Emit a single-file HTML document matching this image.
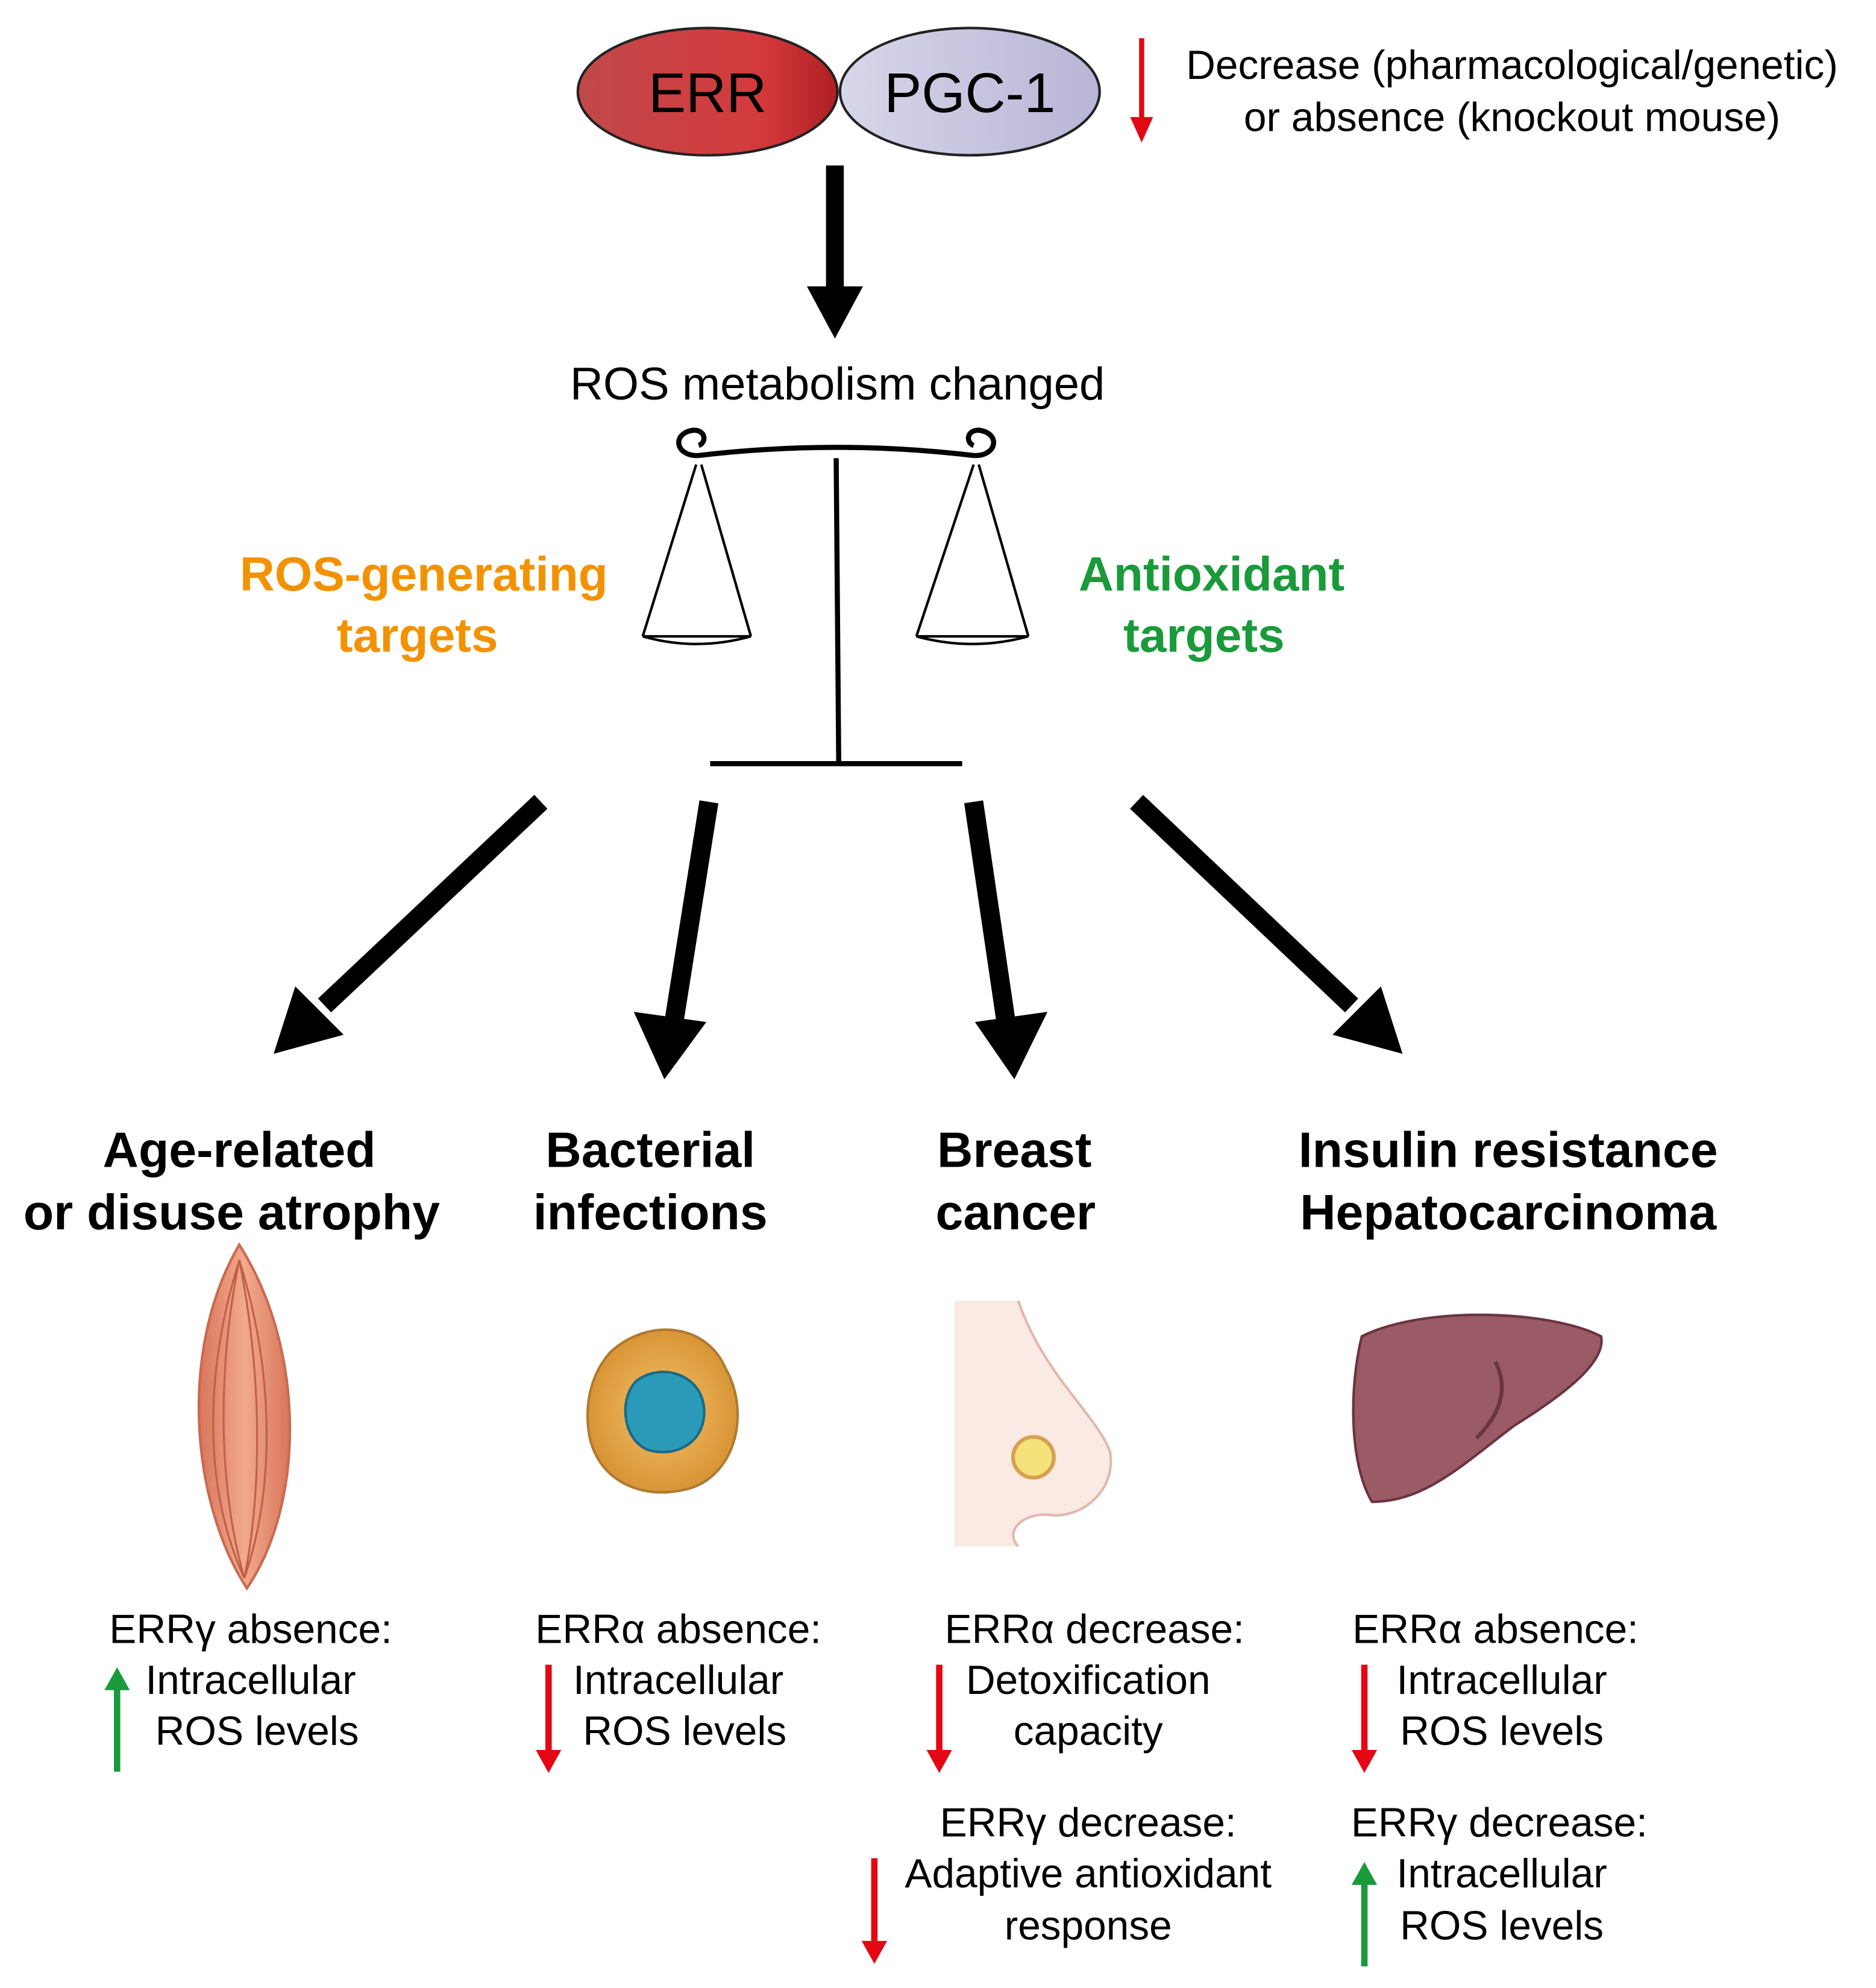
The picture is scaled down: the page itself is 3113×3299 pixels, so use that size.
<!DOCTYPE html>
<html><head><meta charset="utf-8"><style>html,body{margin:0;padding:0;background:#fff}svg{display:block}</style></head><body>
<svg width="3113" height="3299" viewBox="0 0 1474 1562" preserveAspectRatio="none" xmlns="http://www.w3.org/2000/svg" font-family="Liberation Sans, sans-serif">
<defs>
<linearGradient id="rg" x1="0" x2="1"><stop offset="0" stop-color="#c0484a"/><stop offset="0.7" stop-color="#d43a3c"/><stop offset="1" stop-color="#b01f24"/></linearGradient>
<linearGradient id="pg" x1="0" x2="1"><stop offset="0" stop-color="#d8d6ea"/><stop offset="1" stop-color="#b8b5d5"/></linearGradient>
<radialGradient id="cg"><stop offset="0" stop-color="#f4c16a"/><stop offset="1" stop-color="#d99536"/></radialGradient>
<linearGradient id="mg" x1="0" x2="1"><stop offset="0" stop-color="#d9765a"/><stop offset="0.5" stop-color="#f2a98c"/><stop offset="1" stop-color="#d9765a"/></linearGradient>
</defs>
<rect width="1474" height="1562" fill="#fff"/>
<ellipse cx="556" cy="72" rx="102" ry="50" fill="url(#rg)" stroke="#222" stroke-width="2"/>
<ellipse cx="762" cy="72" rx="102" ry="50" fill="url(#pg)" stroke="#222" stroke-width="2"/>
<text x="556" y="88" font-size="44" text-anchor="middle">ERR</text>
<text x="762" y="88" font-size="44" text-anchor="middle">PGC-1</text>
<g fill="#e30613" stroke="#e30613"><line x1="897" y1="30" x2="897" y2="95" stroke-width="4"/><polygon points="888,92 906,92 897,112" stroke="none"/></g>
<g font-size="32" text-anchor="middle"><text x="1188" y="62">Decrease (pharmacological/genetic)</text><text x="1188" y="103">or absence (knockout mouse)</text></g>
<g fill="#000"><rect x="649" y="130" width="14" height="100"/><polygon points="634,225 678,225 656,266"/></g>
<text x="658" y="314" font-size="36" text-anchor="middle">ROS metabolism changed</text>
<g fill="none" stroke="#000" stroke-width="4">
<path d="M548,358 Q657,345 766,358"/>
<path d="M548,358 C530,358 528,340 545,338 C555,338 555,348 549,350"/>
<path d="M766,358 C784,358 786,340 769,338 C759,338 759,348 765,350"/>
<line x1="657" y1="360" x2="659" y2="600"/>
<line x1="558" y1="600" x2="756" y2="600"/>
</g>
<g fill="none" stroke="#000" stroke-width="2">
<path d="M547,365 L505,500 M551,365 L590,500 M505,500 Q547,512 590,500 M505,500 L590,500"/>
<path d="M765,365 L720,500 M769,365 L808,500 M720,500 Q764,512 808,500 M720,500 L808,500"/>
</g>
<g font-size="38" font-weight="bold" text-anchor="middle">
<text x="333" y="464" fill="#f39200">ROS-generating</text><text x="328" y="512" fill="#f39200">targets</text>
<text x="952" y="464" fill="#1a9a3a">Antioxidant</text><text x="946" y="512" fill="#1a9a3a">targets</text>
</g>
<g stroke="#000" stroke-width="15">
<line x1="425" y1="630" x2="255" y2="790"/>
<line x1="557" y1="630" x2="530" y2="800"/>
<line x1="765" y1="630" x2="790" y2="800"/>
<line x1="893" y1="630" x2="1062" y2="790"/>
</g>
<g fill="#000">
<polygon points="215,828 232,775 270,813"/>
<polygon points="522,848 498,795 555,803"/>
<polygon points="797,848 766,803 823,795"/>
<polygon points="1102,828 1047,813 1085,775"/>
</g>
<g font-size="39" font-weight="bold" text-anchor="middle">
<text x="188" y="917">Age-related</text><text x="182" y="966">or disuse atrophy</text>
<text x="511" y="917">Bacterial</text><text x="511" y="966">infections</text>
<text x="797" y="917">Breast</text><text x="798" y="966">cancer</text>
<text x="1185" y="917">Insulin resistance</text><text x="1185" y="966">Hepatocarcinoma</text>
</g>
<path d="M188,978 C240,1060 240,1180 194,1248 C150,1180 140,1060 188,978 Z" fill="url(#mg)" stroke="#c96a50" stroke-width="2"/>
<g stroke="#c0604a" stroke-width="1.5" fill="none"><path d="M188,990 C170,1080 172,1170 192,1240"/><path d="M188,990 C206,1080 206,1170 192,1240"/><path d="M188,990 C160,1080 160,1170 192,1240"/><path d="M188,990 C216,1080 216,1170 192,1240"/></g>
<path d="M480,1062 C510,1035 555,1040 570,1075 C590,1110 578,1160 540,1170 C500,1180 465,1160 462,1120 C460,1095 468,1075 480,1062 Z" fill="url(#cg)" stroke="#b07a30" stroke-width="2"/>
<path d="M500,1085 C520,1070 550,1080 553,1105 C556,1130 535,1145 512,1140 C490,1135 485,1100 500,1085 Z" fill="#2a9ab8" stroke="#1a6a88" stroke-width="2"/>
<path d="M750,1022 L800,1022 C820,1080 860,1110 872,1140 C878,1170 850,1195 822,1190 C800,1190 790,1205 800,1215 L750,1215 Z" fill="#fbe9e3"/>
<path d="M800,1022 C820,1080 860,1110 872,1140 C878,1170 850,1195 822,1190 C800,1190 790,1205 800,1215" fill="none" stroke="#e0b8ae" stroke-width="2"/>
<circle cx="812" cy="1145" r="16" fill="#f5e27a" stroke="#d7a050" stroke-width="3"/>
<path d="M1070,1050 C1120,1025 1220,1030 1258,1050 C1262,1070 1230,1095 1190,1120 C1150,1150 1120,1180 1078,1180 C1060,1150 1060,1090 1070,1050 Z" fill="#9a5a66" stroke="#6a3440" stroke-width="2"/>
<path d="M1175,1070 C1185,1090 1180,1110 1160,1130" fill="none" stroke="#6a3440" stroke-width="3"/>
<g font-size="32" text-anchor="middle">
<text x="197" y="1291">ERRγ absence:</text><text x="197" y="1331">Intracellular</text><text x="202" y="1371">ROS levels</text>
<text x="533" y="1291">ERRα absence:</text><text x="533" y="1331">Intracellular</text><text x="538" y="1371">ROS levels</text>
<text x="860" y="1291">ERRα decrease:</text><text x="855" y="1331">Detoxification</text><text x="855" y="1371">capacity</text>
<text x="855" y="1443">ERRγ decrease:</text><text x="855" y="1483">Adaptive antioxidant</text><text x="855" y="1524">response</text>
<text x="1175" y="1291">ERRα absence:</text><text x="1180" y="1331">Intracellular</text><text x="1180" y="1371">ROS levels</text>
<text x="1178" y="1443">ERRγ decrease:</text><text x="1180" y="1483">Intracellular</text><text x="1180" y="1524">ROS levels</text>
</g>
<g stroke-width="5">
<g stroke="#1a9a3a" fill="#1a9a3a"><line x1="92" y1="1392" x2="92" y2="1325"/><polygon points="82,1328 102,1328 92,1310" stroke="none"/>
<line x1="1072" y1="1545" x2="1072" y2="1478"/><polygon points="1062,1481 1082,1481 1072,1463" stroke="none"/></g>
<g stroke="#e30613" fill="#e30613"><line x1="431" y1="1308" x2="431" y2="1378"/><polygon points="421,1375 441,1375 431,1393" stroke="none"/>
<line x1="738" y1="1308" x2="738" y2="1378"/><polygon points="728,1375 748,1375 738,1393" stroke="none"/>
<line x1="1072" y1="1308" x2="1072" y2="1378"/><polygon points="1062,1375 1082,1375 1072,1393" stroke="none"/>
<line x1="687" y1="1460" x2="687" y2="1528"/><polygon points="677,1525 697,1525 687,1543" stroke="none"/></g>
</g>
</svg>
</body></html>
